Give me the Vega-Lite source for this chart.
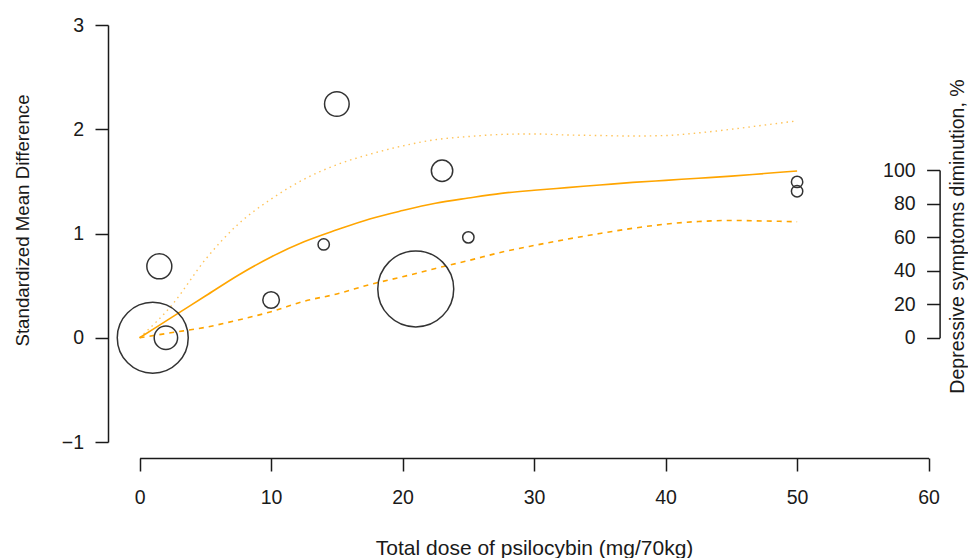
{
  "$schema": "https://vega.github.io/schema/vega-lite/v6.json",
  "width": 852,
  "height": 451,
  "autosize": {"type": "none"},
  "padding": {"left": 108, "top": 7, "right": 8, "bottom": 100},
  "background": "white",
  "config": {
    "view": {"stroke": null},
    "font": "Liberation Sans",
    "axis": {
      "grid": false,
      "domainColor": "#1a1a1a",
      "domainWidth": 1.5,
      "tickColor": "#1a1a1a",
      "tickWidth": 1.5,
      "tickSize": 13,
      "labelFont": "Liberation Sans",
      "labelFontSize": 19.5,
      "labelColor": "#1a1a1a",
      "labelFlush": false,
      "titleFont": "Liberation Sans",
      "titleFontSize": 19.5,
      "titleFontWeight": "normal",
      "titleColor": "#1a1a1a"
    }
  },
  "datasets": {
    "studies": [
      {"dose": 1, "smd": 0.0, "weight": 36.4},
      {"dose": 2, "smd": 0.0, "weight": 3.96},
      {"dose": 1.5, "smd": 0.685, "weight": 4.51},
      {"dose": 10, "smd": 0.362, "weight": 1.99},
      {"dose": 14, "smd": 0.895, "weight": 0.93},
      {"dose": 15, "smd": 2.242, "weight": 4.37},
      {"dose": 23, "smd": 1.602, "weight": 3.3},
      {"dose": 21, "smd": 0.468, "weight": 41.7},
      {"dose": 25, "smd": 0.963, "weight": 0.93},
      {"dose": 50, "smd": 1.495, "weight": 0.93},
      {"dose": 50, "smd": 1.405, "weight": 0.93}
    ],
    "curves": [
      {"dose": 0, "smd": 0, "curve": "fit"},
      {"dose": 2.5, "smd": 0.2, "curve": "fit"},
      {"dose": 5, "smd": 0.4, "curve": "fit"},
      {"dose": 7.5, "smd": 0.6, "curve": "fit"},
      {"dose": 10, "smd": 0.775, "curve": "fit"},
      {"dose": 12.5, "smd": 0.92, "curve": "fit"},
      {"dose": 15, "smd": 1.035, "curve": "fit"},
      {"dose": 17.5, "smd": 1.14, "curve": "fit"},
      {"dose": 20, "smd": 1.22, "curve": "fit"},
      {"dose": 22.5, "smd": 1.29, "curve": "fit"},
      {"dose": 25, "smd": 1.34, "curve": "fit"},
      {"dose": 27.5, "smd": 1.385, "curve": "fit"},
      {"dose": 30, "smd": 1.415, "curve": "fit"},
      {"dose": 32.5, "smd": 1.44, "curve": "fit"},
      {"dose": 35, "smd": 1.465, "curve": "fit"},
      {"dose": 37.5, "smd": 1.49, "curve": "fit"},
      {"dose": 40, "smd": 1.51, "curve": "fit"},
      {"dose": 42.5, "smd": 1.53, "curve": "fit"},
      {"dose": 45, "smd": 1.55, "curve": "fit"},
      {"dose": 47.5, "smd": 1.575, "curve": "fit"},
      {"dose": 50, "smd": 1.6, "curve": "fit"},
      {"dose": 0, "smd": 0, "curve": "upper"},
      {"dose": 2.5, "smd": 0.32, "curve": "upper"},
      {"dose": 5, "smd": 0.75, "curve": "upper"},
      {"dose": 7.5, "smd": 1.09, "curve": "upper"},
      {"dose": 10, "smd": 1.33, "curve": "upper"},
      {"dose": 12.5, "smd": 1.52, "curve": "upper"},
      {"dose": 15, "smd": 1.66, "curve": "upper"},
      {"dose": 17.5, "smd": 1.76, "curve": "upper"},
      {"dose": 20, "smd": 1.84, "curve": "upper"},
      {"dose": 22.5, "smd": 1.9, "curve": "upper"},
      {"dose": 25, "smd": 1.93, "curve": "upper"},
      {"dose": 27.5, "smd": 1.95, "curve": "upper"},
      {"dose": 30, "smd": 1.955, "curve": "upper"},
      {"dose": 32.5, "smd": 1.945, "curve": "upper"},
      {"dose": 35, "smd": 1.94, "curve": "upper"},
      {"dose": 37.5, "smd": 1.935, "curve": "upper"},
      {"dose": 40, "smd": 1.94, "curve": "upper"},
      {"dose": 42.5, "smd": 1.965, "curve": "upper"},
      {"dose": 45, "smd": 2.0, "curve": "upper"},
      {"dose": 47.5, "smd": 2.04, "curve": "upper"},
      {"dose": 50, "smd": 2.08, "curve": "upper"},
      {"dose": 0, "smd": 0, "curve": "lower"},
      {"dose": 2.5, "smd": 0.05, "curve": "lower"},
      {"dose": 5, "smd": 0.1, "curve": "lower"},
      {"dose": 7.5, "smd": 0.17, "curve": "lower"},
      {"dose": 10, "smd": 0.25, "curve": "lower"},
      {"dose": 12.5, "smd": 0.35, "curve": "lower"},
      {"dose": 15, "smd": 0.42, "curve": "lower"},
      {"dose": 17.5, "smd": 0.51, "curve": "lower"},
      {"dose": 20, "smd": 0.585, "curve": "lower"},
      {"dose": 22.5, "smd": 0.665, "curve": "lower"},
      {"dose": 25, "smd": 0.74, "curve": "lower"},
      {"dose": 27.5, "smd": 0.82, "curve": "lower"},
      {"dose": 30, "smd": 0.885, "curve": "lower"},
      {"dose": 32.5, "smd": 0.945, "curve": "lower"},
      {"dose": 35, "smd": 1.0, "curve": "lower"},
      {"dose": 37.5, "smd": 1.05, "curve": "lower"},
      {"dose": 40, "smd": 1.09, "curve": "lower"},
      {"dose": 42.5, "smd": 1.115, "curve": "lower"},
      {"dose": 45, "smd": 1.125, "curve": "lower"},
      {"dose": 47.5, "smd": 1.12, "curve": "lower"},
      {"dose": 50, "smd": 1.113, "curve": "lower"}
    ],
    "rightaxis": [{"pct": 0}, {"pct": 100}]
  },
  "layer": [
    {
      "encoding": {
        "x": {
          "field": "dose",
          "type": "quantitative",
          "scale": {"domain": [0, 60], "range": [31.6, 820.6], "nice": false, "zero": false},
          "axis": {
            "values": [0, 10, 20, 30, 40, 50, 60],
            "labelPadding": 17,
            "labelBaseline": "top",
            "title": "Total dose of psilocybin (mg/70kg)",
            "titleFontSize": 21,
            "titleBaseline": "alphabetic",
            "titleY": 96
          }
        },
        "y": {
          "field": "smd",
          "type": "quantitative",
          "scale": {"domain": [-1, 3], "range": [435, 18], "nice": false, "zero": false},
          "axis": {
            "values": [-1, 0, 1, 2, 3],
            "labelPadding": 11.5,
            "title": "Standardized Mean Difference",
            "titleFontSize": 18.7,
            "titleBaseline": "middle",
            "titleX": -86,
            "titleY": 213
          }
        }
      },
      "layer": [
        {
          "data": {"name": "curves"},
          "transform": [{"filter": "datum.curve === 'upper'"}],
          "mark": {"type": "line", "color": "#FFA500", "strokeWidth": 1.4, "strokeDash": [1.5, 4], "opacity": 0.65, "interpolate": "monotone"}
        },
        {
          "data": {"name": "curves"},
          "transform": [{"filter": "datum.curve === 'lower'"}],
          "mark": {"type": "line", "color": "#FFA500", "strokeWidth": 1.6, "strokeDash": [5, 5], "interpolate": "monotone"}
        },
        {
          "data": {"name": "curves"},
          "transform": [{"filter": "datum.curve === 'fit'"}],
          "mark": {"type": "line", "color": "#FFA500", "strokeWidth": 1.6, "interpolate": "monotone"}
        },
        {
          "data": {"name": "studies"},
          "mark": {"type": "point", "shape": "circle", "filled": false, "stroke": "#333333", "strokeWidth": 1.5, "opacity": 1},
          "encoding": {
            "size": {
              "field": "weight",
              "type": "quantitative",
              "scale": {"type": "linear", "domain": [0, 100], "range": [0, 13836]},
              "legend": null
            }
          }
        }
      ]
    },
    {
      "data": {"name": "rightaxis"},
      "mark": {"type": "point", "opacity": 0},
      "encoding": {
        "y": {
          "field": "pct",
          "type": "quantitative",
          "scale": {"domain": [0, 100], "range": [330.75, 163], "nice": false, "zero": false},
          "axis": {
            "orient": "left",
            "offset": -831.6,
            "values": [0, 20, 40, 60, 80, 100],
            "labelPadding": 11.5,
            "title": "Depressive symptoms diminution, %",
            "titleBaseline": "middle",
            "titleX": 18,
            "titleY": 229
          }
        }
      }
    }
  ],
  "resolve": {"scale": {"y": "independent"}}
}
